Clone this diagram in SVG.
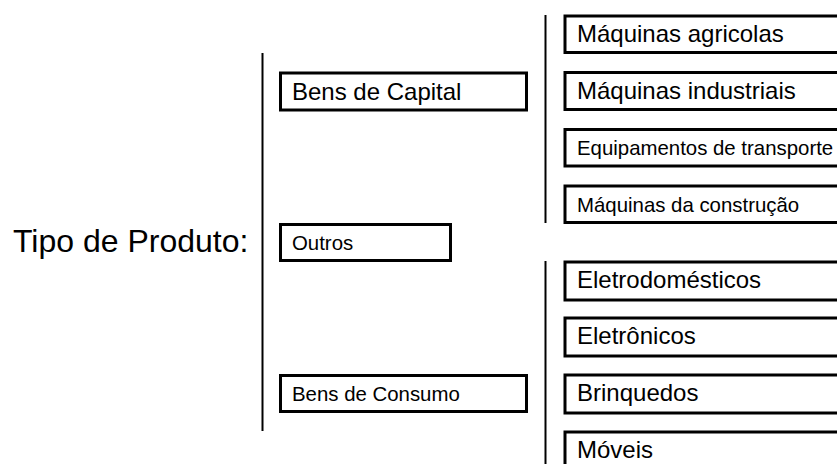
<svg xmlns="http://www.w3.org/2000/svg" width="837" height="464" viewBox="0 0 837 464">
<style>
.box{fill:#fff;stroke:#000;stroke-width:3}
.ln{stroke:#000;stroke-width:2;fill:none}
text{font-family:"Liberation Sans",Arial,sans-serif;fill:#000}
.l{font-size:24px}
.s{font-size:20.4px}
</style>
<rect width="837" height="464" fill="#fff"/>
<g id="connectors">
<line class="ln" x1="262.5" y1="53" x2="262.5" y2="431"/>
<line class="ln" x1="545.5" y1="15" x2="545.5" y2="223"/>
<line class="ln" x1="545.5" y1="261" x2="545.5" y2="464"/>
</g>
<g id="tipo"><text x="13" y="252" style="font-size:32px">Tipo de Produto:</text></g>
<g id="bens-capital"><rect class="box" x="280.5" y="73" width="246" height="37"/><text class="l" x="292" y="100">Bens de Capital</text></g>
<g id="outros"><rect class="box" x="280.5" y="224.5" width="170" height="36"/><text class="s" x="292" y="250">Outros</text></g>
<g id="bens-consumo"><rect class="box" x="280.5" y="375.5" width="246" height="36"/><text class="s" x="292" y="401">Bens de Consumo</text></g>
<g id="maq-agricolas"><rect class="box" x="565" y="16" width="280" height="36.5"/><text class="l" x="577" y="42">Máquinas agricolas</text></g>
<g id="maq-industriais"><rect class="box" x="565" y="72.5" width="280" height="37"/><text class="l" x="577" y="99">Máquinas industriais</text></g>
<g id="equip-transporte"><rect class="box" x="565" y="129.5" width="280" height="36.5"/><text class="s" x="577" y="155">Equipamentos de transporte</text></g>
<g id="maq-construcao"><rect class="box" x="565" y="186" width="280" height="36.5"/><text class="s" x="577" y="212">Máquinas da construção</text></g>
<g id="eletrodomesticos"><rect class="box" x="565" y="262" width="280" height="38"/><text class="l" x="577" y="288">Eletrodomésticos</text></g>
<g id="eletronicos"><rect class="box" x="565" y="318" width="280" height="38"/><text class="l" x="577" y="344">Eletrônicos</text></g>
<g id="brinquedos"><rect class="box" x="565" y="375" width="280" height="38"/><text class="l" x="577" y="401">Brinquedos</text></g>
<g id="moveis"><rect class="box" x="565" y="432" width="280" height="38"/><text class="l" x="577" y="458">Móveis</text></g>
</svg>
